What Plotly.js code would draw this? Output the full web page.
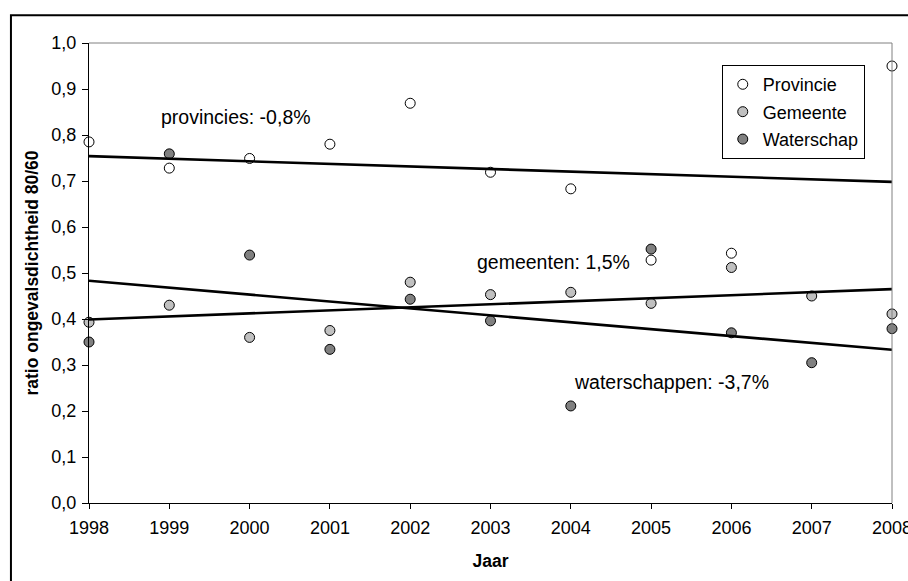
<!DOCTYPE html>
<html>
<head>
<meta charset="utf-8">
<script src="https://cdn.plot.ly/plotly-3.0.1.min.js"></script>
<style>html,body{margin:0;padding:0;background:#fff;}#chart{width:908px;height:581px;}</style>
</head>
<body>
<div id="chart"></div>
<script>
var years = [1998, 1999, 2000, 2001, 2002, 2003, 2004, 2005, 2006, 2007, 2008];
var provincie = [0.785, 0.728, 0.749, 0.780, 0.869, 0.719, 0.683, 0.528, 0.543, 0.768, 0.950];
var gemeente = [0.393, 0.430, 0.360, 0.375, 0.480, 0.453, 0.458, 0.434, 0.512, 0.450, 0.411];
var waterschap = [0.350, 0.759, 0.539, 0.334, 0.443, 0.396, 0.211, 0.552, 0.370, 0.305, 0.379];
var trendYears = [1998, 2008];
var trendProvincie = [0.754, 0.698];
var trendGemeente = [0.399, 0.465];
var trendWaterschap = [0.483, 0.333];
var seriesNames = ['Provincie', 'Gemeente', 'Waterschap'];
var trendLabels = ['provincies: -0,8%', 'gemeenten: 1,5%', 'waterschappen: -3,7%'];
var xTitle = 'Jaar';
var yTitle = 'ratio ongevalsdichtheid 80/60';

var FONT = '"Liberation Sans", Arial, sans-serif';
function pts(name, y, color, grp) {
  return {x: years, y: y, name: name, type: 'scatter', mode: 'markers', legendgroup: grp,
    cliponaxis: false,
    marker: {size: 10, color: color, line: {color: '#000', width: 1}}};
}
function trend(y) {
  return {x: trendYears, y: y, type: 'scatter', mode: 'lines', showlegend: false,
    hoverinfo: 'skip', cliponaxis: false, line: {color: '#000', width: 2.6}};
}
var data = [
  pts(seriesNames[0], provincie, '#ffffff', 'p'),
  pts(seriesNames[1], gemeente, '#c0c0c0', 'g'),
  pts(seriesNames[2], waterschap, '#808080', 'w'),
  trend(trendProvincie), trend(trendGemeente), trend(trendWaterschap)
];
var layout = {
  width: 908, height: 581,
  margin: {l: 89, r: 16, t: 43, b: 78},
  paper_bgcolor: '#fff', plot_bgcolor: '#fff',
  separators: ',.',
  font: {family: FONT, size: 17, color: '#000'},
  showlegend: true,
  legend: {x: 0.788, y: 0.952, xanchor: 'left', yanchor: 'top',
    bgcolor: '#fff', bordercolor: '#000', borderwidth: 1,
    font: {family: FONT, size: 18, color: '#000'}, tracegroupgap: 1, itemwidth: 30},
  xaxis: {range: [1998, 2008], tickvals: years, ticktext: years.map(String),
    showgrid: false, zeroline: false, showline: true, linecolor: '#000', linewidth: 1,
    ticks: 'outside', ticklen: 5, tickcolor: '#000', ticklabeloverflow: 'allow',
    ticklabelstandoff: 3,
    tickfont: {family: FONT, size: 18, color: '#000'},
    title: {text: '<b>' + xTitle + '</b>', font: {family: FONT, size: 17.5, color: '#000'}, standoff: 18}},
  yaxis: {range: [0, 1], dtick: 0.1, tick0: 0, tickformat: '.1f',
    showgrid: false, zeroline: false, showline: true, linecolor: '#000', linewidth: 1,
    ticks: 'outside', ticklen: 6, tickcolor: '#000', ticklabelstandoff: 2,
    tickfont: {family: FONT, size: 18, color: '#000'},
    title: {text: '<b>' + yTitle + '</b>', font: {family: FONT, size: 17.5, color: '#000'}, standoff: 8}},
  shapes: [
    {type: 'line', xref: 'paper', yref: 'paper', x0: 0, x1: 1, y0: 1, y1: 1, line: {color: '#808080', width: 1}},
    {type: 'line', xref: 'paper', yref: 'paper', x0: 1, x1: 1, y0: 0, y1: 1, line: {color: '#808080', width: 1}},
    {type: 'rect', xref: 'paper', yref: 'paper', x0: -0.0972, x1: 1.2, y0: -0.4, y1: 1.0602,
      line: {color: '#000', width: 2}, layer: 'below'}
  ],
  annotations: [
    {x: 1999.83, y: 0.840, text: trendLabels[0], showarrow: false, font: {family: FONT, size: 19.5, color: '#000'}},
    {x: 2003.78, y: 0.5246, text: trendLabels[1], showarrow: false, font: {family: FONT, size: 19.5, color: '#000'}},
    {x: 2005.26, y: 0.2637, text: trendLabels[2], showarrow: false, font: {family: FONT, size: 19.5, color: '#000'}}
  ]
};
Plotly.newPlot('chart', data, layout, {displayModeBar: false, staticPlot: true});
</script>
</body>
</html>
